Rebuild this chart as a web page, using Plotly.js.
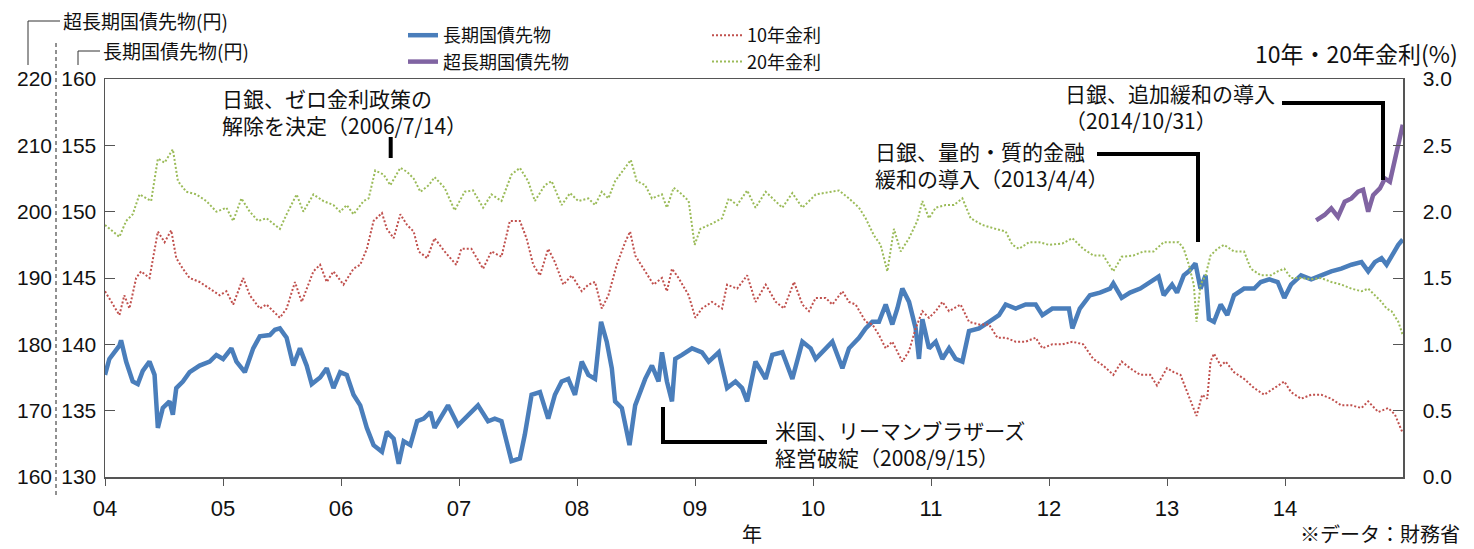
<!DOCTYPE html>
<html><head><meta charset="utf-8">
<script src="https://cdn.plot.ly/plotly-3.0.1.min.js"></script>
<style>html,body{margin:0;padding:0;background:#fff}#chart{width:1474px;height:549px}</style>
</head><body><div id="chart"></div>
<script>
// ---- data (decimal year, value) ----
const yearTicks = [2004,2005,2006,2007,2008,2009,2010,2011,2012,2013,2014];
const yearTickText = ['04','05','06','07','08','09','10','11','12','13','14'];

const longX = [2004.000,2004.037,2004.122,2004.136,2004.179,2004.235,2004.278,2004.320,2004.377,2004.420,2004.448,2004.490,2004.547,2004.575,2004.604,2004.660,2004.717,2004.802,2004.887,2004.944,2005.001,2005.071,2005.114,2005.185,2005.256,2005.312,2005.397,2005.440,2005.482,2005.539,2005.596,2005.652,2005.709,2005.752,2005.823,2005.879,2005.936,2005.993,2006.049,2006.106,2006.163,2006.219,2006.276,2006.347,2006.389,2006.446,2006.489,2006.531,2006.588,2006.645,2006.701,2006.758,
2006.793,2006.907,2006.992,2007.076,2007.161,2007.246,2007.303,2007.360,2007.402,2007.445,2007.516,2007.558,2007.615,2007.686,2007.756,2007.813,2007.870,2007.926,2007.983,2008.040,2008.096,2008.153,2008.204,2008.252,2008.295,2008.323,2008.380,2008.445,2008.493,2008.578,2008.635,2008.691,2008.720,2008.762,2008.805,2008.833,2008.890,2008.975,2009.059,2009.116,2009.201,2009.272,2009.343,2009.399,2009.442,2009.513,
2009.599,2009.655,2009.740,2009.825,2009.910,2009.980,2010.023,2010.107,2010.164,2010.249,2010.305,2010.390,2010.446,2010.503,2010.559,2010.616,2010.672,2010.715,2010.757,2010.814,2010.870,2010.898,2010.927,2010.983,2011.040,2011.096,2011.153,2011.209,2011.266,2011.322,2011.407,2011.492,2011.576,2011.633,2011.718,2011.802,2011.887,2011.944,2012.028,2012.113,2012.169,2012.198,
2012.261,2012.347,2012.432,2012.517,2012.545,2012.616,2012.687,2012.773,2012.858,2012.929,2012.972,2013.043,2013.085,2013.142,2013.185,2013.241,2013.284,2013.327,2013.355,2013.398,2013.455,2013.511,2013.568,2013.653,2013.739,2013.795,2013.866,2013.938,2013.994,2014.051,2014.136,2014.222,2014.307,2014.392,2014.477,2014.563,2014.648,2014.705,2014.761,2014.818,2014.861,2014.903,2014.960,2014.998];
const longY = [137.7,138.9,139.9,140.3,138.7,137.2,137.0,138.0,138.7,137.7,133.7,135.2,135.7,134.7,136.7,137.2,137.9,138.4,138.7,139.2,138.9,139.7,138.7,137.9,139.7,140.6,140.7,141.1,141.2,140.5,138.4,139.7,138.4,137.0,137.5,138.2,136.7,137.9,137.7,136.2,135.4,133.7,132.4,131.9,133.4,132.9,131.0,132.7,132.4,134.2,134.4,134.9,
133.7,135.4,133.9,134.7,135.4,134.2,134.4,134.2,132.7,131.2,131.4,133.2,136.2,136.4,134.4,136.2,137.2,137.4,136.2,138.7,137.7,137.4,141.7,140.2,138.2,135.7,135.2,132.4,135.4,137.4,138.4,137.2,139.4,137.2,135.7,138.9,139.2,139.7,139.4,138.7,139.4,136.7,137.2,136.7,135.7,138.7,
137.4,139.2,139.4,137.4,140.2,139.7,138.9,139.7,140.2,138.2,139.7,140.5,141.2,141.7,141.7,143.0,141.5,142.7,144.2,143.2,141.2,138.9,141.9,139.7,140.2,138.9,139.7,138.9,138.7,141.0,141.2,141.7,142.2,143.0,142.7,143.0,143.0,142.2,142.7,142.7,142.7,141.2,
142.7,143.7,143.9,144.2,144.6,143.5,143.9,144.2,144.7,145.1,143.7,144.5,143.9,145.2,145.5,146.1,144.2,145.2,141.9,141.7,143.0,142.2,143.7,144.2,144.2,144.7,144.9,144.7,143.5,144.5,145.2,144.9,145.2,145.5,145.7,146.0,146.2,145.5,146.2,146.5,146.0,146.7,147.5,147.9];

const superX = [2014.264,2014.335,2014.392,2014.449,2014.506,2014.563,2014.619,2014.662,2014.705,2014.747,2014.804,2014.847,2014.889,2014.932,2014.974,2014.998];
const superY = [198.7,199.5,200.5,199.2,201.5,202.0,203.0,203.3,200.0,202.5,203.5,205.0,204.5,208.0,211.6,213.1];

const r10X = [2004.000,2004.065,2004.122,2004.164,2004.207,2004.264,2004.306,2004.377,2004.448,2004.505,2004.561,2004.604,2004.660,2004.717,2004.802,2004.887,2004.972,2005.029,2005.086,2005.171,2005.227,2005.312,2005.369,2005.426,2005.482,2005.539,2005.610,2005.667,2005.766,2005.823,2005.879,2005.936,2006.021,2006.106,2006.163,2006.219,2006.276,2006.347,2006.389,2006.446,2006.503,2006.560,2006.616,2006.659,2006.730,
2006.793,2006.878,2006.977,2007.020,2007.105,2007.204,2007.275,2007.360,2007.431,2007.516,2007.572,2007.629,2007.686,2007.756,2007.813,2007.884,2007.955,2008.040,2008.096,2008.153,2008.210,2008.266,2008.337,2008.408,2008.450,2008.493,2008.578,2008.649,2008.720,2008.762,2008.805,2008.861,2008.946,2009.003,2009.059,2009.144,2009.229,2009.272,2009.357,2009.442,2009.513,
2009.599,2009.684,2009.754,2009.839,2009.910,2009.966,2010.023,2010.107,2010.164,2010.249,2010.305,2010.362,2010.446,2010.503,2010.559,2010.616,2010.672,2010.757,2010.814,2010.870,2010.927,2010.983,2011.040,2011.096,2011.153,2011.251,2011.322,2011.407,2011.492,2011.562,2011.633,2011.718,2011.802,2011.887,2011.944,2012.028,2012.113,2012.198,
2012.290,2012.375,2012.460,2012.545,2012.616,2012.687,2012.773,2012.858,2012.915,2013.000,2013.057,2013.114,2013.170,2013.227,2013.250,2013.298,2013.341,2013.369,2013.398,2013.455,2013.497,2013.568,2013.653,2013.739,2013.824,2013.909,2013.994,2014.051,2014.136,2014.222,2014.307,2014.392,2014.477,2014.563,2014.648,2014.705,2014.790,2014.875,2014.932,2014.998];
const r10Y = [1.40,1.30,1.22,1.37,1.27,1.50,1.55,1.50,1.85,1.77,1.86,1.65,1.57,1.50,1.47,1.42,1.37,1.40,1.30,1.50,1.37,1.27,1.30,1.25,1.20,1.27,1.47,1.32,1.55,1.60,1.47,1.55,1.45,1.57,1.60,1.72,1.93,1.99,1.87,1.80,1.98,1.90,1.85,1.70,1.65,
1.80,1.70,1.60,1.72,1.72,1.57,1.70,1.66,1.93,1.93,1.80,1.60,1.52,1.72,1.62,1.45,1.52,1.40,1.45,1.47,1.27,1.37,1.60,1.77,1.85,1.67,1.55,1.45,1.50,1.40,1.57,1.50,1.37,1.20,1.27,1.32,1.27,1.45,1.42,1.52,1.32,
1.45,1.32,1.27,1.47,1.30,1.25,1.35,1.35,1.30,1.40,1.32,1.30,1.17,1.15,1.07,0.97,1.02,0.87,0.95,1.12,1.25,1.20,1.25,1.32,1.25,1.30,1.17,1.15,1.15,1.05,1.05,1.02,1.02,1.05,0.97,1.00,1.00,1.02,
1.00,0.89,0.84,0.77,0.87,0.82,0.77,0.77,0.69,0.82,0.79,0.77,0.64,0.52,0.46,0.62,0.59,0.87,0.93,0.84,0.87,0.79,0.74,0.67,0.62,0.67,0.72,0.64,0.59,0.62,0.62,0.59,0.54,0.54,0.52,0.57,0.49,0.52,0.47,0.33];

const r20X = [2004.000,2004.065,2004.122,2004.179,2004.235,2004.292,2004.349,2004.391,2004.448,2004.505,2004.575,2004.618,2004.689,2004.774,2004.859,2004.944,2005.029,2005.086,2005.156,2005.227,2005.298,2005.369,2005.426,2005.482,2005.539,2005.624,2005.681,2005.766,2005.851,2005.936,2005.993,2006.049,2006.106,2006.191,2006.234,2006.290,2006.361,2006.418,2006.503,2006.560,2006.616,2006.673,2006.744,
2006.793,2006.878,2006.963,2007.048,2007.119,2007.204,2007.275,2007.360,2007.445,2007.516,2007.586,2007.643,2007.728,2007.785,2007.870,2007.941,2008.011,2008.096,2008.153,2008.210,2008.266,2008.323,2008.408,2008.456,2008.507,2008.578,2008.635,2008.720,2008.762,2008.819,2008.890,2008.946,2008.997,2009.045,2009.144,2009.229,2009.286,2009.357,2009.442,2009.513,
2009.599,2009.740,2009.825,2009.910,2010.023,2010.136,2010.220,2010.305,2010.390,2010.446,2010.517,2010.573,2010.630,2010.686,2010.743,2010.814,2010.884,2010.927,2010.983,2011.040,2011.124,2011.195,2011.266,2011.336,2011.435,2011.548,2011.633,2011.689,2011.746,2011.831,2011.915,2012.000,2012.113,2012.198,
2012.290,2012.375,2012.460,2012.545,2012.616,2012.716,2012.801,2012.886,2012.972,2013.028,2013.099,2013.142,2013.185,2013.227,2013.250,2013.284,2013.327,2013.369,2013.426,2013.483,2013.568,2013.653,2013.710,2013.795,2013.881,2013.938,2013.994,2014.051,2014.136,2014.222,2014.307,2014.392,2014.477,2014.563,2014.648,2014.705,2014.761,2014.818,2014.861,2014.903,2014.960,2014.998];
const r20Y = [1.90,1.85,1.81,1.93,1.98,2.13,2.10,2.08,2.40,2.37,2.47,2.23,2.15,2.13,2.08,2.00,2.03,1.93,2.10,2.00,1.93,1.95,1.91,1.87,1.98,2.13,2.00,2.13,2.08,2.05,2.00,2.05,1.98,2.08,2.10,2.31,2.28,2.20,2.33,2.30,2.25,2.15,2.20,
2.26,2.18,2.01,2.15,2.16,2.03,2.13,2.08,2.28,2.33,2.23,2.08,2.20,2.23,2.05,2.14,2.08,2.10,2.05,2.15,2.10,2.23,2.33,2.39,2.23,2.20,2.10,2.13,2.03,2.18,2.13,2.08,1.75,1.87,1.91,1.95,2.10,2.05,2.16,2.03,
2.15,2.03,2.14,2.03,2.13,2.15,2.16,2.10,2.03,1.95,1.82,1.75,1.55,1.87,1.70,1.80,1.93,2.08,1.95,2.03,2.05,2.05,2.10,1.95,1.90,1.87,1.85,1.75,1.72,1.77,1.77,1.75,1.76,1.80,
1.72,1.67,1.67,1.55,1.66,1.67,1.70,1.70,1.77,1.77,1.77,1.72,1.60,1.45,1.17,1.45,1.52,1.67,1.72,1.75,1.70,1.70,1.57,1.52,1.52,1.55,1.57,1.50,1.50,1.49,1.50,1.47,1.45,1.42,1.40,1.42,1.37,1.32,1.27,1.25,1.17,1.07];

const seriesNames = ['長期国債先物','超長期国債先物','10年金利','20年金利'];

// ---- layout helpers (pixel -> paper fraction for decorations) ----
const W = 1474, H = 549, ML = 10, MR = 71, MT = 79, MB = 72;
const PW = W - ML - MR, PH = H - MT - MB;
const px = v => (v - ML) / PW;
const py = v => (H - MB - v) / PH;

const JP = 'Noto Sans CJK JP, sans-serif';
const LAT = 'Liberation Sans, Arial, sans-serif';
const AX = '#555';

const traces = [
  {x: longX, y: longY, name: seriesNames[0], type: 'scatter', mode: 'lines', yaxis: 'y', legend: 'legend',
   line: {color: '#4a7ebb', width: 4.5}},
  {x: superX, y: superY, name: seriesNames[1], type: 'scatter', mode: 'lines', yaxis: 'y2', legend: 'legend',
   line: {color: '#8064a2', width: 4.5}},
  {x: r10X, y: r10Y, name: seriesNames[2], type: 'scatter', mode: 'lines', yaxis: 'y3', legend: 'legend2',
   line: {color: '#c0504d', width: 2, dash: '2px,2px'}},
  {x: r20X, y: r20Y, name: seriesNames[3], type: 'scatter', mode: 'lines', yaxis: 'y3', legend: 'legend2',
   line: {color: '#9bbb59', width: 2, dash: '2px,2px'}}
];

function ann(text, x, y, anchor, size) {
  return {text: text, xref: 'paper', yref: 'paper', x: px(x), y: py(y), xanchor: anchor || 'left',
          yanchor: 'middle', align: 'left', showarrow: false, borderpad: 0,
          font: {family: JP, size: size || 21, color: '#111'}};
}
function seg(x0, y0, x1, y1, w, color, dash) {
  return {type: 'line', xref: 'paper', yref: 'paper', x0: px(x0), y0: py(y0), x1: px(x1), y1: py(y1),
          line: {color: color || '#000', width: w || 1, dash: dash || 'solid'}};
}
function elbow(pts, w, color) {
  let d = pts.map((p, i) => (i ? 'L' : 'M') + px(p[0]) + ',' + py(p[1])).join(' ');
  return {type: 'path', xref: 'paper', yref: 'paper', path: d, line: {color: color || '#000', width: w}};
}

const legendCommon = {xref: 'paper', yref: 'paper', xanchor: 'left', yanchor: 'top', orientation: 'v',
  bgcolor: 'rgba(0,0,0,0)', borderwidth: 0, tracegroupgap: 0, font: {family: JP, size: 18, color: '#111'}};

const layout = {
  width: W, height: H,
  margin: {l: ML, r: MR, t: MT, b: MB, pad: 0, autoexpand: false},
  paper_bgcolor: '#fff', plot_bgcolor: '#fff',
  font: {family: LAT, color: '#111'},
  showlegend: true,
  xaxis: {domain: [px(105), 1], range: [2004, 2015], tickvals: yearTicks, ticktext: yearTickText,
          ticks: 'outside', ticklen: 7, tickcolor: AX, tickwidth: 1, showline: true, linecolor: AX, linewidth: 1.5,
          mirror: true, showgrid: false, zeroline: false, tickfont: {family: LAT, size: 22, color: '#111'},
          ticklabelstandoff: 4},
  yaxis: {range: [130, 160], tick0: 130, dtick: 5, ticks: 'inside', ticklen: 10, tickcolor: AX,
          showline: true, linecolor: AX, linewidth: 1.5, showgrid: false, zeroline: false, anchor: 'x',
          tickfont: {family: LAT, size: 21, color: '#111'}, ticklabelstandoff: 3},
  yaxis2: {range: [160, 220], tick0: 160, dtick: 10, overlaying: 'y', anchor: 'free', position: px(56),
           side: 'left', ticks: '', showline: false, showgrid: false, zeroline: false,
           tickfont: {family: LAT, size: 21, color: '#111'}, ticklabelstandoff: 4},
  yaxis3: {range: [0, 3], tick0: 0, dtick: 0.5, tickformat: '.1f', overlaying: 'y', anchor: 'x', side: 'right',
           ticks: 'inside', ticklen: 10, tickcolor: AX, showline: true, linecolor: AX, linewidth: 1.5,
           showgrid: false, zeroline: false, tickfont: {family: LAT, size: 21, color: '#111'}, ticklabelstandoff: 14},
  legend: Object.assign({}, legendCommon, {x: px(403), y: py(17)}),
  legend2: Object.assign({}, legendCommon, {x: px(707), y: py(17)}),
  annotations: [
    ann('超長期国債先物(円)', 62, 21, 'left', 19),
    ann('長期国債先物(円)', 102, 51, 'left', 19),
    ann('10年・20年金利(%)', 1459, 53, 'right', 23),
    ann('日銀、ゼロ金利政策の<br>解除を決定（2006/7/14）', 221, 111),
    ann('日銀、量的・質的金融<br>緩和の導入（2013/4/4）', 874, 164),
    ann('日銀、追加緩和の導入<br>（2014/10/31）', 1064, 107),
    ann('米国、リーマンブラザーズ<br>経営破綻（2008/9/15）', 774, 443),
    ann('年', 752, 533, 'center', 20),
    ann('※データ：財務省', 1461, 533, 'right', 20)
  ],
  shapes: [
    seg(56, 495, 56, 40, 1, '#222', '4px,3px'),
    elbow([[60, 21], [28, 21], [28, 65]], 1, '#333'),
    elbow([[100, 51], [78, 51], [78, 65]], 1, '#333'),
    seg(390.7, 137, 390.7, 158, 4),
    elbow([[1097, 154], [1198, 154], [1198, 242]], 4),
    elbow([[1282, 103], [1383, 103], [1383, 180]], 4),
    elbow([[663, 407], [663, 442], [767, 442]], 4)
  ]
};

Plotly.newPlot('chart', traces, layout, {staticPlot: true, displayModeBar: false});
</script></body></html>
